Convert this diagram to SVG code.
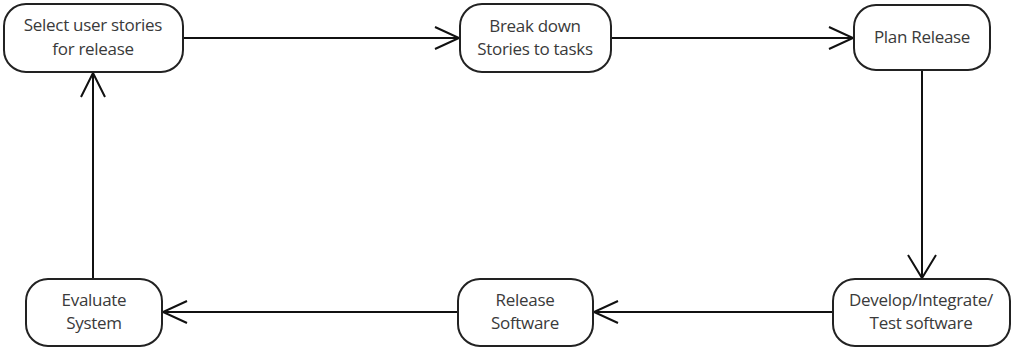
<svg xmlns="http://www.w3.org/2000/svg" width="1015" height="348" viewBox="0 0 1015 348">
<style>
.box{fill:#fff;stroke:#222;stroke-width:2}
.t{font-family:"Open Sans","Liberation Sans",sans-serif;font-size:17px;fill:#3a3a3a;text-anchor:middle;letter-spacing:-0.3px}
.c{stroke:#111;stroke-width:2;fill:none}
</style>
<rect width="1015" height="348" fill="#fff"/>
<g id="connectors">
<path class="c" d="M183 38H459M435 27L459 38L435 49"/>
<path class="c" d="M611 38H853M829 27L853 38L829 49"/>
<path class="c" d="M922 70V278M908 255L922 278L936 255"/>
<path class="c" d="M833 312H594M618 301L594 312L618 323"/>
<path class="c" d="M458 312H163M187 301L163 312L187 323"/>
<path class="c" d="M93 279V73M81 97L93 73L105 97"/>
</g>
<g id="n1"><rect class="box" x="4" y="4" width="179" height="68" rx="22"/><text class="t" x="93" y="31">Select user stories</text><text class="t" x="93" y="55">for release</text></g>
<g id="n2"><rect class="box" x="460" y="4" width="151" height="68" rx="22"/><text class="t" x="535" y="32">Break down</text><text class="t" x="535" y="55">Stories to tasks</text></g>
<g id="n3"><rect class="box" x="854" y="5" width="136" height="65" rx="22"/><text class="t" x="922" y="43">Plan Release</text></g>
<g id="n4"><rect class="box" x="833" y="279" width="177" height="67" rx="22"/><text class="t" x="921" y="306">Develop/Integrate/</text><text class="t" x="921" y="329">Test software</text></g>
<g id="n5"><rect class="box" x="458" y="279" width="135" height="67" rx="22"/><text class="t" x="525" y="306">Release</text><text class="t" x="525" y="329">Software</text></g>
<g id="n6"><rect class="box" x="26" y="279" width="136" height="67" rx="22"/><text class="t" x="94" y="306">Evaluate</text><text class="t" x="94" y="329">System</text></g>
</svg>
